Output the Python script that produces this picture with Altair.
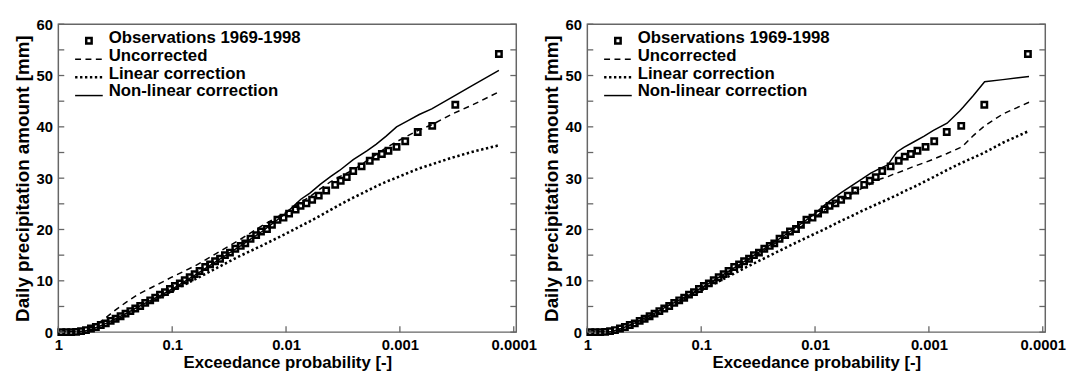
import altair as alt
import pandas as pd

# ---------------- data ----------------
obs_p = [0.942, 0.852, 0.771, 0.698, 0.632, 0.572, 0.517, 0.468, 0.424, 0.383,
         0.347, 0.314, 0.284, 0.257, 0.233, 0.211, 0.191, 0.1725, 0.156, 0.141,
         0.128, 0.1157, 0.1047, 0.0947, 0.0857, 0.0776, 0.0702, 0.0635, 0.0575, 0.0513,
         0.0465, 0.042, 0.038, 0.0344, 0.0311, 0.0279, 0.025, 0.0228, 0.0205, 0.0183,
         0.0166, 0.0147, 0.0133, 0.0119, 0.01053, 0.0094, 0.00824, 0.00746, 0.00662, 0.0059,
         0.00516, 0.00444, 0.0037, 0.00331, 0.00293, 0.00257, 0.00217, 0.00184, 0.00163, 0.00144,
         0.00126, 0.00107, 0.000898, 0.000697, 0.00052, 0.000326, 0.000135]
obs_mm = [0, 0, 0, 0.05, 0.2, 0.4, 0.7, 1.0, 1.4, 1.7,
          2.2, 2.6, 3.1, 3.6, 4.1, 4.6, 5.1, 5.7, 6.2, 6.7,
          7.3, 7.8, 8.4, 9.0, 9.5, 10.1, 10.7, 11.3, 11.9, 12.7,
          13.2, 13.8, 14.3, 15.0, 15.5, 16.25, 16.8, 17.3, 18.2, 18.9,
          19.6, 20.1, 20.9, 21.9, 22.3, 23.1, 23.9, 24.6, 25.1, 25.8,
          26.6, 27.6, 28.7, 29.5, 30.2, 31.4, 32.3, 33.4, 34.2, 34.7,
          35.35, 36.1, 37.2, 39.0, 40.2, 44.3, 54.2]

left_p = [1, 0.631, 0.501, 0.398, 0.316, 0.251, 0.2, 0.158, 0.126, 0.1,
          0.0631, 0.0398, 0.0251, 0.0158, 0.01, 0.00741, 0.00617, 0.00501, 0.00407, 0.00339,
          0.00257, 0.00195, 0.00162, 0.00132, 0.00107, 0.000832, 0.000676, 0.000525, 0.000347, 0.000234,
          0.000135]
left_uncorrected = [0, 0.15, 1.0, 2.5, 4.3, 5.9, 7.35, 8.5, 9.6, 10.75,
                    12.9, 15.5, 18.1, 20.9, 23.4, 25.3, 26.4, 27.9, 29.3, 30.3,
                    31.6, 33.4, 34.6, 35.9, 37.1, 38.4, 39.4, 40.4, 42.5, 44.2,
                    46.8]
left_linear = [0, 0, 0.4, 1.2, 2.2, 3.3, 4.5, 5.7, 6.9, 8.0,
               10.3, 12.6, 14.9, 17.0, 19.2, 20.7, 21.6, 22.7, 23.8, 24.8,
               26.2, 27.5, 28.4, 29.3, 30.1, 31.1, 31.9, 32.7, 34.0, 35.1,
               36.4]
left_nonlinear = [0, 0.05, 0.6, 1.5, 2.6, 3.7, 4.9, 6.1, 7.2, 8.4,
                  11.1, 14.0, 16.8, 19.8, 23.2, 25.9, 27.1, 28.8, 30.3, 31.5,
                  33.6, 35.3, 36.6, 38.2, 40.0, 41.3, 42.4, 43.5, 45.8, 48.0,
                  51.0]

right_p = [1, 0.631, 0.501, 0.398, 0.316, 0.251, 0.2, 0.158, 0.126, 0.1,
           0.0631, 0.0398, 0.0251, 0.0158, 0.01, 0.00851, 0.00708, 0.00589, 0.00479, 0.00389,
           0.00324, 0.00263, 0.00229, 0.00209, 0.00191, 0.00166, 0.00135, 0.0011, 0.000912, 0.000692,
           0.000537, 0.000501, 0.000407, 0.000324, 0.000224, 0.000132]
right_uncorrected = [0, 0.05, 0.7, 1.6, 2.7, 3.8, 5.0, 6.2, 7.3, 8.5,
                     11.1, 13.9, 16.6, 19.4, 22.4, 23.6, 24.9, 25.9, 26.9, 28.0,
                     28.9, 29.9, 30.3, 30.7, 31.0, 31.5, 32.3, 33.0, 33.7, 34.8,
                     35.9, 36.3, 38.3, 40.2, 42.5, 44.8]
right_linear = [0, 0, 0.5, 1.3, 2.3, 3.4, 4.6, 5.8, 7.0, 8.1,
                10.4, 12.7, 14.9, 17.1, 19.2, 19.9, 20.8, 21.7, 22.6, 23.6,
                24.4, 25.3, 25.9, 26.3, 26.7, 27.4, 28.3, 29.3, 30.2, 31.6,
                32.8, 33.1, 34.0, 35.0, 36.9, 39.2]
right_nonlinear = [0, 0.05, 0.7, 1.6, 2.7, 3.8, 5.0, 6.2, 7.3, 8.6,
                   11.3, 14.1, 16.9, 19.9, 23.1, 24.5, 25.9, 27.2, 28.5, 29.8,
                   31.0, 32.0, 32.6, 33.9, 35.1, 36.0, 37.1, 38.2, 39.3, 40.7,
                   43.1, 43.8, 46.1, 48.8, 49.2, 49.8]

legend_labels = ["Observations 1969-1998", "Uncorrected", "Linear correction", "Non-linear correction"]
x_tick_values = [1, 0.1, 0.01, 0.001, 0.0001]
y_label_values = [0, 10, 20, 30, 40, 50, 60]
y_tick_values = [0, 5, 10, 15, 20, 25, 30, 35, 40, 45, 50, 55, 60]

# ---------------- styling ----------------
FONT = "Liberation Sans"
W, H = 464, 312
X_DOMAIN = [0.000095, 1]
FRAME = "#666666"
DASH = [6, 4.5]
DOT = [2.4, 2.6]


def xscale():
    return alt.Scale(type="log", domain=X_DOMAIN, reverse=True, nice=False)


def yscale():
    return alt.Scale(domain=[0, 60], nice=False, zero=False)


x_axis = alt.Axis(values=x_tick_values, format="~g", labelFlush=False, labelOverlap=False,
                  ticks=False, domain=False, grid=False, labelPadding=6, titlePadding=2,
                  labelFontSize=15, titleFontSize=17,
                  title="Exceedance probability [-]")
y_axis = alt.Axis(values=y_label_values, labelFlush=False, labelOverlap=False,
                  ticks=False, domain=False, grid=False, labelPadding=6, titlePadding=4,
                  labelFontSize=15, titleFontSize=19,
                  title="Daily precipitation amount [mm]")


def X():
    return alt.X("p:Q", scale=xscale(), axis=x_axis)


def Y():
    return alt.Y("mm:Q", scale=yscale(), axis=y_axis)


def line_layer(ps, vals, dash=None, width=1.5):
    df = pd.DataFrame({"p": ps, "mm": vals})
    kw = dict(color="black", strokeWidth=width, strokeCap="butt", clip=True)
    if dash is not None:
        kw["strokeDash"] = dash
    return alt.Chart(df).mark_line(**kw).encode(x=X(), y=Y())


def panel(ps, unc, lin, nonlin):
    obs_df = pd.DataFrame({"p": obs_p, "mm": obs_mm})
    pts = alt.Chart(obs_df).mark_point(shape="square", filled=False, color="black",
                                       size=30, strokeWidth=2.5, opacity=1).encode(x=X(), y=Y())
    l_unc = line_layer(ps, unc, DASH, 1.5)
    l_lin = line_layer(ps, lin, DOT, 2.6)
    l_nl = line_layer(ps, nonlin, None, 1.5)

    yt = pd.DataFrame({"mm": y_tick_values})
    xt = pd.DataFrame({"p": x_tick_values})
    tick_kw = dict(color=FRAME, strokeWidth=1.3)
    t_left = alt.Chart(yt).mark_rule(**tick_kw).encode(y=Y(), x=alt.value(0), x2=alt.value(6))
    t_right = alt.Chart(yt).mark_rule(**tick_kw).encode(y=Y(), x=alt.value(W - 6), x2=alt.value(W))
    t_bottom = alt.Chart(xt).mark_rule(**tick_kw).encode(x=X(), y=alt.value(H - 6), y2=alt.value(H))

    # legend (inside, top-left)
    text_y = [13.8, 32.3, 50.6, 67.8]
    leg = []
    for lab, ty in zip(legend_labels, text_y):
        leg.append(alt.Chart(pd.DataFrame({"label": [lab]})).mark_text(
            align="left", baseline="middle", font=FONT, fontSize=17, fontWeight="bold",
            color="black").encode(x=alt.value(51), y=alt.value(ty), text="label:N"))
    leg.append(alt.Chart(pd.DataFrame({"label": [legend_labels[0]]})).mark_point(
        shape="square", filled=False, color="black", size=30, strokeWidth=2.5, opacity=1
    ).encode(x=alt.value(31), y=alt.value(16.8)))
    for (dash, width, ly, lab) in [(DASH, 1.5, 35.6, legend_labels[1]),
                                   (DOT, 2.6, 53.8, legend_labels[2]),
                                   (None, 1.5, 72.3, legend_labels[3])]:
        kw = dict(color="black", strokeWidth=width, strokeCap="butt")
        if dash is not None:
            kw["strokeDash"] = dash
        leg.append(alt.Chart(pd.DataFrame({"label": [lab]})).mark_rule(**kw).encode(
            x=alt.value(17), x2=alt.value(45), y=alt.value(ly)))

    return alt.layer(l_unc, l_lin, l_nl, pts, t_left, t_right, t_bottom, *leg).properties(
        width=W, height=H)


left = panel(left_p, left_uncorrected, left_linear, left_nonlinear)
right = panel(right_p, right_uncorrected, right_linear, right_nonlinear)

chart = alt.hconcat(left, right, spacing=72, bounds="flush").properties(
    padding={"left": 4, "top": 6, "right": 0, "bottom": 0}
).configure(font=FONT).configure_view(
    stroke=FRAME, strokeWidth=1.5
).configure_axis(
    labelFont=FONT, titleFont=FONT,
    labelFontWeight="bold", titleFontWeight="bold", labelColor="black", titleColor="black"
)

chart.save("out.html", embed_options={"renderer": "svg", "actions": False})
